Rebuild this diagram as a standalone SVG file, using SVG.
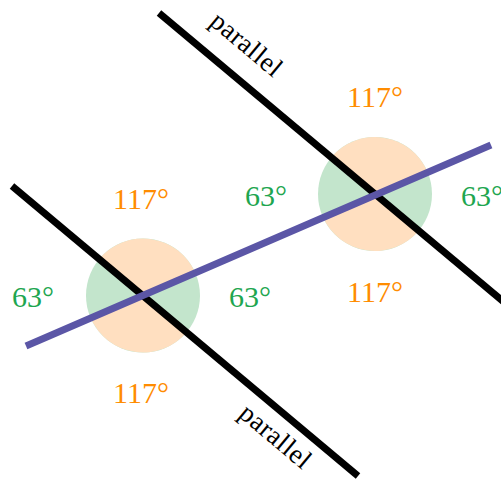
<svg xmlns="http://www.w3.org/2000/svg" width="501" height="481" viewBox="0 0 501 481">
<style>
.g{fill:#c3e5cc}
.o{fill:#ffdfc0}
.lbl{font-family:"Liberation Serif",serif;font-size:30px}
.ot{fill:#ff8c00}
.gt{fill:#1ea650}
.par{font-family:"Liberation Serif",serif;font-size:27px;letter-spacing:0.5px;fill:#000}
.bl{stroke:#000;stroke-width:7;fill:none}
.tr{stroke:#5b56a6;stroke-width:7;fill:none}
</style>
<rect width="501" height="481" fill="#fff"/>
<g id="angle1">
<circle class="g" cx="143" cy="295.5" r="57"/>
<path class="o" d="M143 295.5 L186.66 332.14 A57 57 0 0 1 90.7 318.1 Z"/>
<path class="o" d="M143 295.5 L99.34 258.86 A57 57 0 0 1 195.3 272.9 Z"/>
</g>
<g id="angle2">
<circle class="g" cx="375" cy="194" r="57"/>
<path class="o" d="M375 194 L418.66 230.64 A57 57 0 0 1 322.7 216.6 Z"/>
<path class="o" d="M375 194 L331.34 157.36 A57 57 0 0 1 427.3 171.4 Z"/>
</g>
<g id="connectors">
<line class="bl" x1="159" y1="13" x2="505" y2="303"/>
<line class="bl" x1="12" y1="186" x2="358" y2="476"/>
<line class="tr" x1="26" y1="346" x2="491" y2="145"/>
</g>
<g id="labels1">
<text class="lbl ot" x="113" y="209">117°</text>
<text class="lbl gt" x="12" y="307">63°</text>
<text class="lbl gt" x="229" y="307">63°</text>
<text class="lbl ot" x="113" y="403">117°</text>
</g>
<g id="labels2">
<text class="lbl ot" x="347" y="107">117°</text>
<text class="lbl gt" x="245" y="206">63°</text>
<text class="lbl gt" x="461" y="206">63°</text>
<text class="lbl ot" x="347" y="302">117°</text>
</g>
<g id="parallel-labels">
<text class="par" text-anchor="middle" transform="translate(241,51) rotate(40)">parallel</text>
<text class="par" text-anchor="middle" transform="translate(270,443) rotate(40)">parallel</text>
</g>
</svg>
